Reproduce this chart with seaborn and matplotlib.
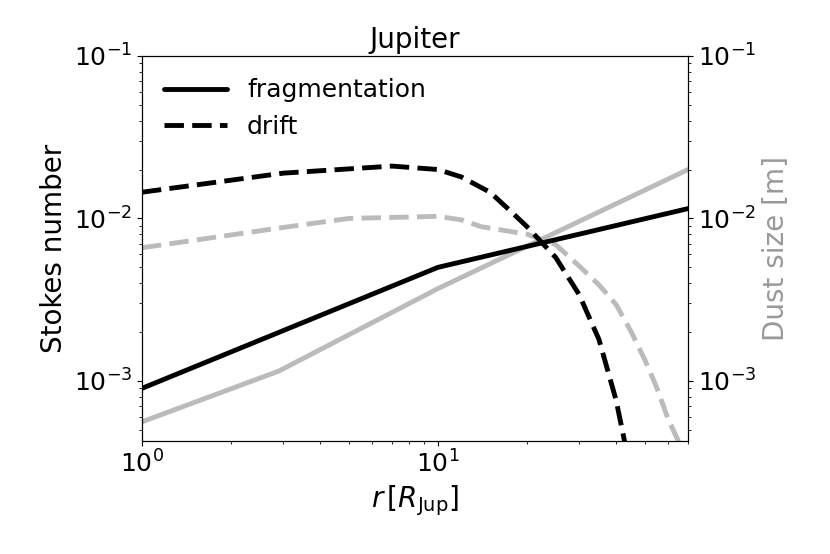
import matplotlib
matplotlib.use("Agg")
import matplotlib.pyplot as plt
import seaborn as sns
import pandas as pd

frag_st_r = [1, 10, 70]
frag_st = [9.0e-4, 5.0e-3, 1.15e-2]
frag_size_r = [1, 2.9, 10, 70]
frag_size = [5.6e-4, 1.15e-3, 3.7e-3, 2.0e-2]
drift_st_r = [1, 3, 7, 10, 12, 15, 17.5, 20, 25, 30, 35, 40, 43]
drift_st = [1.45e-2, 1.9e-2, 2.1e-2, 2.0e-2, 1.8e-2, 1.45e-2, 1.12e-2, 8.9e-3, 5.75e-3, 3.4e-3, 1.8e-3, 7.6e-4, 4.0e-4]
drift_size_r = [1, 3, 5, 10, 12, 14, 20, 25, 30, 35, 40, 45, 50, 55, 60, 66]
drift_size = [6.6e-3, 8.8e-3, 1.0e-2, 1.03e-2, 9.8e-3, 8.9e-3, 8.0e-3, 6.9e-3, 5.1e-3, 3.9e-3, 2.95e-3, 2.0e-3, 1.35e-3, 9.0e-4, 5.8e-4, 4.0e-4]

sns.set_style("ticks")
plt.rcParams.update({"font.size": 18, "mathtext.default": "it",
                     "text.color": "black", "axes.labelcolor": "black",
                     "xtick.color": "black", "ytick.color": "black",
                     "axes.edgecolor": "black"})
fig, ax = plt.subplots(figsize=(8.3, 5.54), dpi=100)
ax2 = ax.twinx()
gray = "#bbbbbb"
lw = 3.5
dash = (0, (4, 1.7))
sns.lineplot(data=pd.DataFrame({"r": frag_size_r, "v": frag_size}), x="r", y="v", ax=ax2, color=gray, lw=lw)
sns.lineplot(data=pd.DataFrame({"r": drift_size_r, "v": drift_size}), x="r", y="v", ax=ax2, color=gray, lw=lw, linestyle=dash)
sns.lineplot(data=pd.DataFrame({"r": frag_st_r, "v": frag_st}), x="r", y="v", ax=ax, color="k", lw=lw, label="fragmentation")
sns.lineplot(data=pd.DataFrame({"r": drift_st_r, "v": drift_st}), x="r", y="v", ax=ax, color="k", lw=lw, linestyle=dash, label="drift")
for a in (ax, ax2):
    a.set_xscale("log"); a.set_yscale("log")
    a.set_ylim(4.27e-4, 1e-1)
    a.tick_params(labelsize=18, colors="black")
ax.set_xlim(1, 70)
ax.set_zorder(ax2.get_zorder() + 1); ax.patch.set_visible(False)
ax.set_xlabel(r"$r\,[R_{\rm Jup}]$", fontsize=20, color="black")
ax.set_ylabel("Stokes number", fontsize=20, color="black")
ax2.set_ylabel("Dust size [m]", fontsize=20, color="#999999")
ax.set_title("Jupiter", fontsize=20, color="black")
leg = ax.legend(frameon=False, fontsize=18, loc="upper left", handlelength=2.5)
for t in leg.get_texts():
    t.set_color("black")
fig.subplots_adjust(left=0.171, right=0.829, top=0.899, bottom=0.204)
fig.savefig("out.png", dpi=100)
